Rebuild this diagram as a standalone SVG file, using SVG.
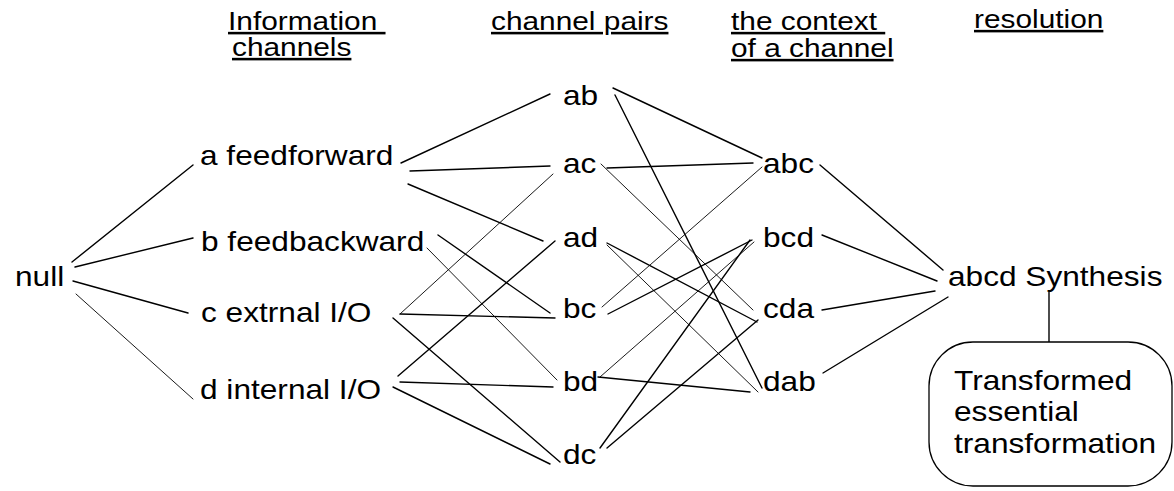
<svg xmlns="http://www.w3.org/2000/svg" width="1174" height="491" viewBox="0 0 1174 491">
<style>
  text { font-family: "Liberation Sans", Arial, sans-serif; fill: #000; }
  .n { font-size: 28.5px; }
  .h { font-size: 25.5px; text-decoration: underline; }
  .c line { stroke: #000; stroke-width: 1.4; stroke-linecap: round; }
  .c line.t { stroke-width: 0.9; }
  .box { fill: #fff; stroke: #000; stroke-width: 1.3; }
</style>
<rect width="1174" height="491" fill="#fff"/>
<g id="headers">
  <text class="h" xml:space="preserve" transform="matrix(1.17 0 0 1 228 30)">Information </text>
  <text class="h" transform="matrix(1.17 0 0 1 232 56)">channels</text>
  <text class="h" transform="matrix(1.17 0 0 1 491 30)">channel pairs</text>
  <text class="h" xml:space="preserve" transform="matrix(1.17 0 0 1 731 30)">the context </text>
  <text class="h" transform="matrix(1.17 0 0 1 731 57)">of a channel</text>
  <text class="h" transform="matrix(1.17 0 0 1 974 28)">resolution</text>
</g>
<g id="connectors" class="c">
  <line x1="72" y1="262" x2="193" y2="165"/>
  <line x1="75" y1="267" x2="193" y2="238"/>
  <line x1="73" y1="281" x2="188" y2="313"/>
  <line class="t" x1="76" y1="294" x2="193" y2="399"/>
  <line x1="401" y1="163" x2="550" y2="94"/>
  <line x1="410" y1="171" x2="550" y2="166"/>
  <line x1="408" y1="184" x2="543" y2="241"/>
  <line x1="438" y1="235" x2="550" y2="313"/>
  <line class="t" x1="427" y1="248" x2="557" y2="380"/>
  <line class="t" x1="400" y1="314" x2="553" y2="174"/>
  <line x1="400" y1="314" x2="555" y2="318"/>
  <line x1="393" y1="318" x2="560" y2="462"/>
  <line x1="398" y1="376" x2="555" y2="241"/>
  <line x1="400" y1="382" x2="553" y2="387"/>
  <line x1="393" y1="387" x2="550" y2="464"/>
  <line x1="613" y1="88" x2="762" y2="158"/>
  <line x1="615" y1="95" x2="762" y2="388"/>
  <line x1="607" y1="168" x2="753" y2="163"/>
  <line class="t" x1="601" y1="164" x2="753" y2="310"/>
  <line x1="607" y1="243" x2="757" y2="322"/>
  <line class="t" x1="607" y1="245" x2="758" y2="392"/>
  <line class="t" x1="602" y1="307" x2="762" y2="167"/>
  <line x1="608" y1="314" x2="752" y2="240"/>
  <line class="t" x1="600" y1="377" x2="754" y2="242"/>
  <line x1="598" y1="377" x2="750" y2="392"/>
  <line x1="600" y1="448" x2="750" y2="240"/>
  <line x1="607" y1="448" x2="758" y2="320"/>
  <line x1="820" y1="165" x2="943" y2="270"/>
  <line x1="822" y1="235" x2="937" y2="281"/>
  <line x1="822" y1="310" x2="935" y2="291"/>
  <line x1="823" y1="373" x2="948" y2="297"/>
  <line x1="1049" y1="292" x2="1049" y2="342"/>
</g>
<g id="n-null"><text class="n" transform="matrix(1.11 0 0 1 15 286)">null</text></g>
<g id="n-a"><text class="n" transform="matrix(1.11 0 0 1 200 165)">a feedforward</text></g>
<g id="n-b"><text class="n" transform="matrix(1.11 0 0 1 201 251)">b feedbackward</text></g>
<g id="n-c"><text class="n" transform="matrix(1.11 0 0 1 201 322)">c extrnal I/O</text></g>
<g id="n-d"><text class="n" transform="matrix(1.11 0 0 1 200 399)">d internal I/O</text></g>
<g id="n-ab"><text class="n" transform="matrix(1.11 0 0 1 563 105)">ab</text></g>
<g id="n-ac"><text class="n" transform="matrix(1.11 0 0 1 563 173)">ac</text></g>
<g id="n-ad"><text class="n" transform="matrix(1.11 0 0 1 563 247)">ad</text></g>
<g id="n-bc"><text class="n" transform="matrix(1.11 0 0 1 563 318)">bc</text></g>
<g id="n-bd"><text class="n" transform="matrix(1.11 0 0 1 563 391)">bd</text></g>
<g id="n-dc"><text class="n" transform="matrix(1.11 0 0 1 563 464)">dc</text></g>
<g id="n-abc"><text class="n" transform="matrix(1.11 0 0 1 763 173)">abc</text></g>
<g id="n-bcd"><text class="n" transform="matrix(1.11 0 0 1 763 247)">bcd</text></g>
<g id="n-cda"><text class="n" transform="matrix(1.11 0 0 1 763 318)">cda</text></g>
<g id="n-dab"><text class="n" transform="matrix(1.11 0 0 1 763 391)">dab</text></g>
<g id="n-synthesis"><text class="n" transform="matrix(1.11 0 0 1 948 286)">abcd Synthesis</text></g>
<g id="n-transformed">
  <rect class="box" x="929" y="342" width="243" height="144" rx="44" ry="44"/>
  <text class="n" transform="matrix(1.11 0 0 1 954 390)">Transformed</text>
  <text class="n" transform="matrix(1.11 0 0 1 954 421)">essential</text>
  <text class="n" transform="matrix(1.11 0 0 1 954 453)">transformation</text>
</g>
</svg>
